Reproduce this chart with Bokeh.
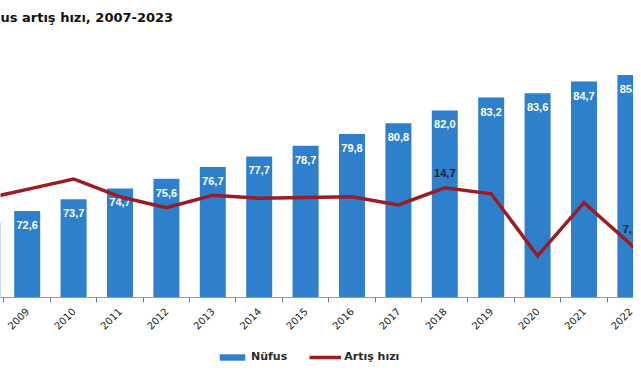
from math import pi
from bokeh.plotting import figure
from bokeh.layouts import column
from bokeh.models import Range1d, FixedTicker, Legend, LegendItem, Label, ColumnDataSource
from bokeh.core.properties import value
from bokeh.embed import file_html
from bokeh.resources import INLINE

# ---- data ----
years = [2008, 2009, 2010, 2011, 2012, 2013, 2014, 2015, 2016, 2017, 2018, 2019, 2020, 2021, 2022, 2023]
population = [71.5, 72.6, 73.7, 74.7, 75.6, 76.7, 77.7, 78.7, 79.8, 80.8, 82.0, 83.2, 83.6, 84.7, 85.3, 85.4]
growth_rate = [13.1, 14.5, 15.9, 13.5, 12.0, 13.7, 13.3, 13.4, 13.5, 12.4, 14.7, 13.9, 5.5, 12.7, 7.1, 1.1]
rate_label_years = [2018, 2022]
title_text = "us artış hızı, 2007-2023"
legend_labels = ["Nüfus", "Artış hızı"]


def tr(v):
    return f"{v:.1f}".replace(".", ",")


# ---- view window (the reference is a crop of a wider chart) ----
x_start, x_end = 2008.4246, 2022.067
pop_start, pop_end = 64.5, 92.28
rate_start, rate_end = -0.135, 40.05

bar_color = "#2E7FCC"
line_color = "#9C1C24"
font = "Liberation Sans"
wide_font = "DejaVu Sans"
W, H_main, H_leg = 633, 340, 32

src = ColumnDataSource(dict(
    year=years,
    pop=population,
    pop_label=[tr(v) for v in population],
    rate=growth_rate,
    rate_label=[tr(r) if y in rate_label_years else "" for y, r in zip(years, growth_rate)],
))

p = figure(width=W, height=H_main, output_backend="svg", toolbar_location=None,
           x_range=Range1d(x_start, x_end), y_range=Range1d(pop_start, pop_end),
           min_border_left=0, min_border_right=0, min_border_top=0, min_border_bottom=H_main - 297,
           y_axis_location=None, outline_line_color=None, background_fill_color="white",
           border_fill_color="white")
p.extra_y_ranges = {"rate": Range1d(rate_start, rate_end)}
p.grid.visible = False

bars = p.vbar(x="year", top="pop", bottom=pop_start, width=0.56, fill_color=bar_color,
              line_color=None, source=src)
p.text(x="year", y="pop", text="pop_label", source=src, text_color="white",
       text_font=value(font), text_font_size="11px", text_font_style="bold",
       text_align="center", text_baseline="middle", y_offset=14)

line = p.line(x="year", y="rate", y_range_name="rate", line_color=line_color,
              line_width=3.5, line_join="miter", source=src)
p.text(x="year", y="rate", text="rate_label", y_range_name="rate", source=src,
       text_color="#15203A", text_font=value(font), text_font_size="11px",
       text_font_style="bold", text_align="center", text_baseline="middle", y_offset=-15)

# title fragment, placed at the top-left of the crop
p.add_layout(Label(x=x_start, y=pop_start + (pop_end - pop_start) * (280 / 297), text=title_text,
                   text_font=wide_font, text_font_size="13px", text_font_style="bold",
                   text_color="#111111", text_baseline="alphabetic"))

xa = p.xaxis[0]
xa.ticker = FixedTicker(ticks=years, minor_ticks=[y - 0.5 for y in years] + [years[-1] + 0.5])
xa.major_label_overrides = {y: str(y) for y in years}
xa.major_label_orientation = pi / 4
xa.major_tick_out = 0
xa.major_tick_in = 0
xa.minor_tick_out = 5
xa.minor_tick_in = 0
xa.minor_tick_line_color = "#7a7a7a"
xa.axis_line_color = "#9a9a9a"
xa.major_label_text_font = wide_font
xa.major_label_text_font_size = "10px"
xa.major_label_text_color = "#1a1a1a"
xa.major_label_standoff = 7

# ---- legend strip below the chart (its renderers reuse the data, far outside this strip's view) ----
pl = figure(width=W, height=H_leg, output_backend="svg", toolbar_location=None,
            x_range=Range1d(0, 1), y_range=Range1d(0, 1),
            min_border=0, x_axis_location=None, y_axis_location=None,
            outline_line_color=None, background_fill_color="white", border_fill_color="white")
pl.grid.visible = False
leg_bar = pl.vbar(x="year", top="pop", width=0.5, fill_color=bar_color, line_color=None, source=src)
leg_line = pl.line(x="year", y="rate", line_color=line_color, line_width=3.5, source=src)
legend = Legend(items=[LegendItem(label=legend_labels[0], renderers=[leg_bar]),
                       LegendItem(label=legend_labels[1], renderers=[leg_line])],
                orientation="horizontal", location=(216, 9), border_line_color=None,
                background_fill_alpha=0, glyph_width=32, glyph_height=8,
                label_text_font=wide_font, label_text_font_size="11px", label_text_font_style="bold",
                label_text_color="#2a2a2a", label_standoff=3, spacing=22, padding=4, margin=0)
pl.add_layout(legend, "center")

layout = column(p, pl, spacing=0)
open("out.html", "w").write(file_html(layout, INLINE))
